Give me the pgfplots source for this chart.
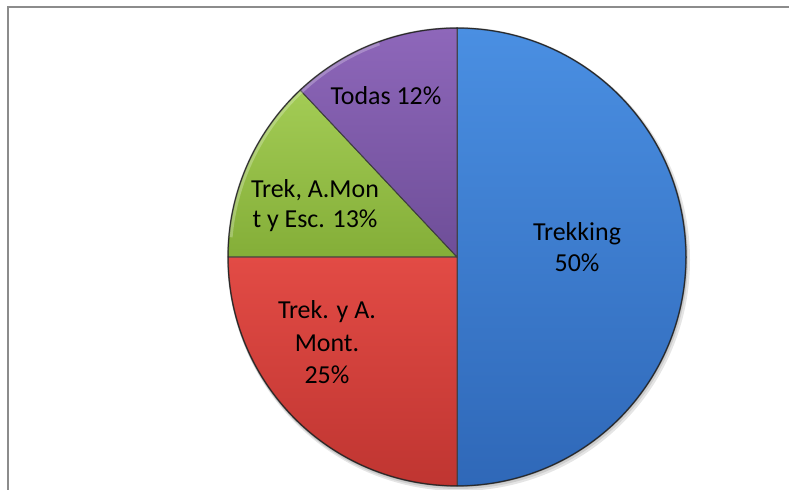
\documentclass[border=0pt]{standalone}
\usepackage{pgfplots}
\pgfplotsset{compat=1.18}
\usepackage{pgfplotstable}
\usepackage{fontspec}
\setmainfont{Carlito}
\definecolor{bluehi}{HTML}{4A8FE2}
\definecolor{bluelo}{HTML}{2F68B8}
\definecolor{redhi}{HTML}{E24B45}
\definecolor{redlo}{HTML}{BF3531}
\definecolor{greenhi}{HTML}{A3CC55}
\definecolor{greenlo}{HTML}{84AE38}
\definecolor{purplehi}{HTML}{8E67BA}
\definecolor{purplelo}{HTML}{6E4E98}
\definecolor{framegray}{HTML}{8C8C8C}

% slice values (percent), clockwise from 12 o'clock
\pgfplotstableread{
value
50
25
13
12
}\piedata

\xdef\cum{90}
\foreach \i in {0,...,3}{%
  \pgfplotstablegetelem{\i}{value}\of\piedata
  \pgfmathsetmacro\b{\cum - 3.6*\pgfplotsretval}%
  \expandafter\xdef\csname pieA\i\endcsname{\cum}%
  \expandafter\xdef\csname pieB\i\endcsname{\b}%
  \xdef\cum{\b}%
}

\newcommand\pcx{457}
\newcommand\pcy{233}
\newcommand\pR{229}
\newcommand\pieslice[3]{% index, hi color, lo color
  \fill[top color=#2, bottom color=#3, draw=black!75, line width=0.35mm, line join=round]
    (axis cs:\pcx,\pcy) -- (axis cs:{\pcx+\pR*cos(\csname pieA#1\endcsname)},{\pcy+\pR*sin(\csname pieA#1\endcsname)})
    arc[start angle=\csname pieA#1\endcsname, end angle=\csname pieB#1\endcsname, radius=\pR*0.35mm] -- cycle;
}

\begin{document}
\begin{tikzpicture}
\begin{axis}[
  hide axis,
  scale only axis,
  x=0.35mm, y=0.35mm,
  xmin=0, xmax=789, ymin=0, ymax=490,
  clip=true,
]
\fill[white] (axis cs:0,0) rectangle (axis cs:789,490);
% frame
\draw[framegray, line width=0.7mm] (axis cs:8,-10) -- (axis cs:8,483) -- (axis cs:800,483);
% shadow
\fill[black, opacity=0.10] (axis cs:459,230) circle[radius=231*0.35mm];
\fill[black, opacity=0.10] (axis cs:458,231) circle[radius=230*0.35mm];
% wedges
\pieslice{0}{bluehi}{bluelo}
\pieslice{1}{redhi}{redlo}
\pieslice{2}{greenhi}{greenlo}
\pieslice{3}{purplehi}{purplelo}
% rim
\draw[white, opacity=0.25, line width=1.2mm] (axis cs:\pcx,\pcy) ++(110:227*0.35mm) arc[start angle=110, end angle=175, radius=227*0.35mm];
\draw[black, opacity=0.35, line width=0.6mm] (axis cs:\pcx,\pcy) circle[radius=\pR*0.35mm];
% labels
\begin{scope}[every node/.style={anchor=base, inner sep=0pt, font=\fontsize{25.8}{31}\selectfont}]
\node at (axis cs:577,249) {Trekking};
\node at (axis cs:577,218.5) {50\%};
\node at (axis cs:327,171) {Trek. y A.};
\node at (axis cs:327,138) {Mont.};
\node at (axis cs:327,106) {25\%};
\node at (axis cs:315,292) {Trek, A.Mon};
\node at (axis cs:315,262) {t y Esc. 13\%};
\node at (axis cs:386,385) {Todas 12\%};
\end{scope}
\end{axis}
\end{tikzpicture}
\end{document}
